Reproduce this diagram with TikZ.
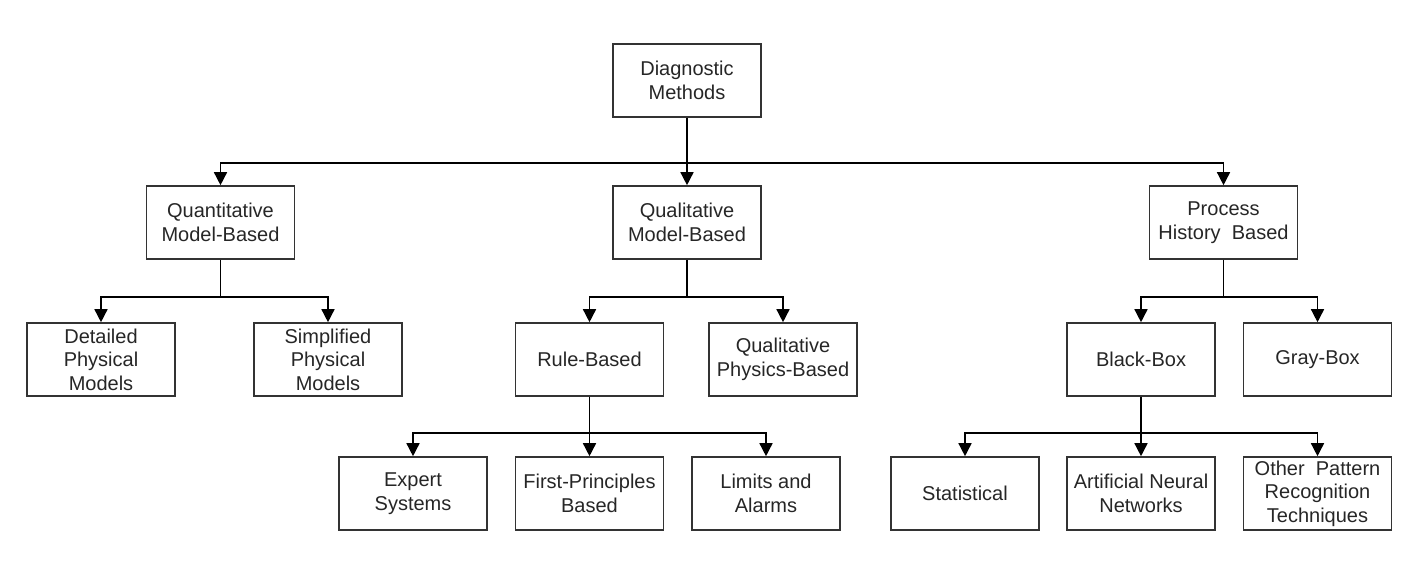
\documentclass[tikz,border=0pt]{standalone}
\usepackage{fontspec}
\setmainfont{Liberation Sans}
\usetikzlibrary{arrows.meta}

\begin{document}
\begin{tikzpicture}[
            x=1pt, y=-1pt,
            box/.style = {shape=rectangle, draw=black!80, line width=1.6pt, minimum width=148pt, minimum height=73pt,
                          inner sep=0pt, align=center, text=black!85, font=\fontsize{20}{23.5}\selectfont},
            link/.style = {draw=black, line width=1.5pt, -{Triangle[length=13pt, width=13pt]}}
          ]
          \useasboundingbox (0,0) rectangle (1423,561);
          % top
          \node[box] (diag) at (687,80.5) {Diagnostic\\Methods};
          % first level
          \node[box] (quant) at (220.5,222.5) {Quantitative\\Model-Based};
          \node[box] (qual)  at (687,222.5)   {Qualitative\\Model-Based};
          \node[box] (proc)  at (1223.5,222.5) {Process\\History~ Based};
          % second level
          \node[box] (detail) at (101,359.5)    {Detailed\\Physical\\Models};
          \node[box] (simple) at (328,359.5)    {Simplified\\Physical\\Models};
          \node[box] (rule)   at (589.5,359.5)  {Rule-Based};
          \node[box] (qphys)  at (783,359.5)    {Qualitative\\Physics-Based};
          \node[box] (black)  at (1141,359.5)   {Black-Box};
          \node[box] (gray)   at (1317.5,359.5) {Gray-Box};
          % third level
          \node[box] (expert) at (413,493.5)    {Expert\\Systems};
          \node[box] (first)  at (589.5,493.5)  {First-Principles\\Based};
          \node[box] (limits) at (766,493.5)    {Limits and\\Alarms};
          \node[box] (stat)   at (965,493.5)    {Statistical};
          \node[box] (ann)    at (1141,493.5)   {Artificial Neural\\Networks};
          \node[box] (other)  at (1317.5,493.5) {Other~ Pattern\\Recognition\\Techniques};
          % connectors
          \draw[link] (diag.south) -- ++(0,45) -| (quant.north);
          \draw[link] (diag.south) -- ++(0,45) -| (proc.north);
          \draw[link] (diag.south) -- (qual.north);
          \draw[link] (quant.south) -- ++(0,37) -| (detail.north);
          \draw[link] (quant.south) -- ++(0,37) -| (simple.north);
          \draw[link] (qual.south) -- ++(0,37) -| (rule.north);
          \draw[link] (qual.south) -- ++(0,37) -| (qphys.north);
          \draw[link] (proc.south) -- ++(0,37) -| (black.north);
          \draw[link] (proc.south) -- ++(0,37) -| (gray.north);
          \draw[link] (rule.south) -- ++(0,36) -| (expert.north);
          \draw[link] (rule.south) -- ++(0,36) -| (limits.north);
          \draw[link] (rule.south) -- (first.north);
          \draw[link] (black.south) -- ++(0,36) -| (stat.north);
          \draw[link] (black.south) -- ++(0,36) -| (other.north);
          \draw[link] (black.south) -- (ann.north);
        \end{tikzpicture}
\end{document}
